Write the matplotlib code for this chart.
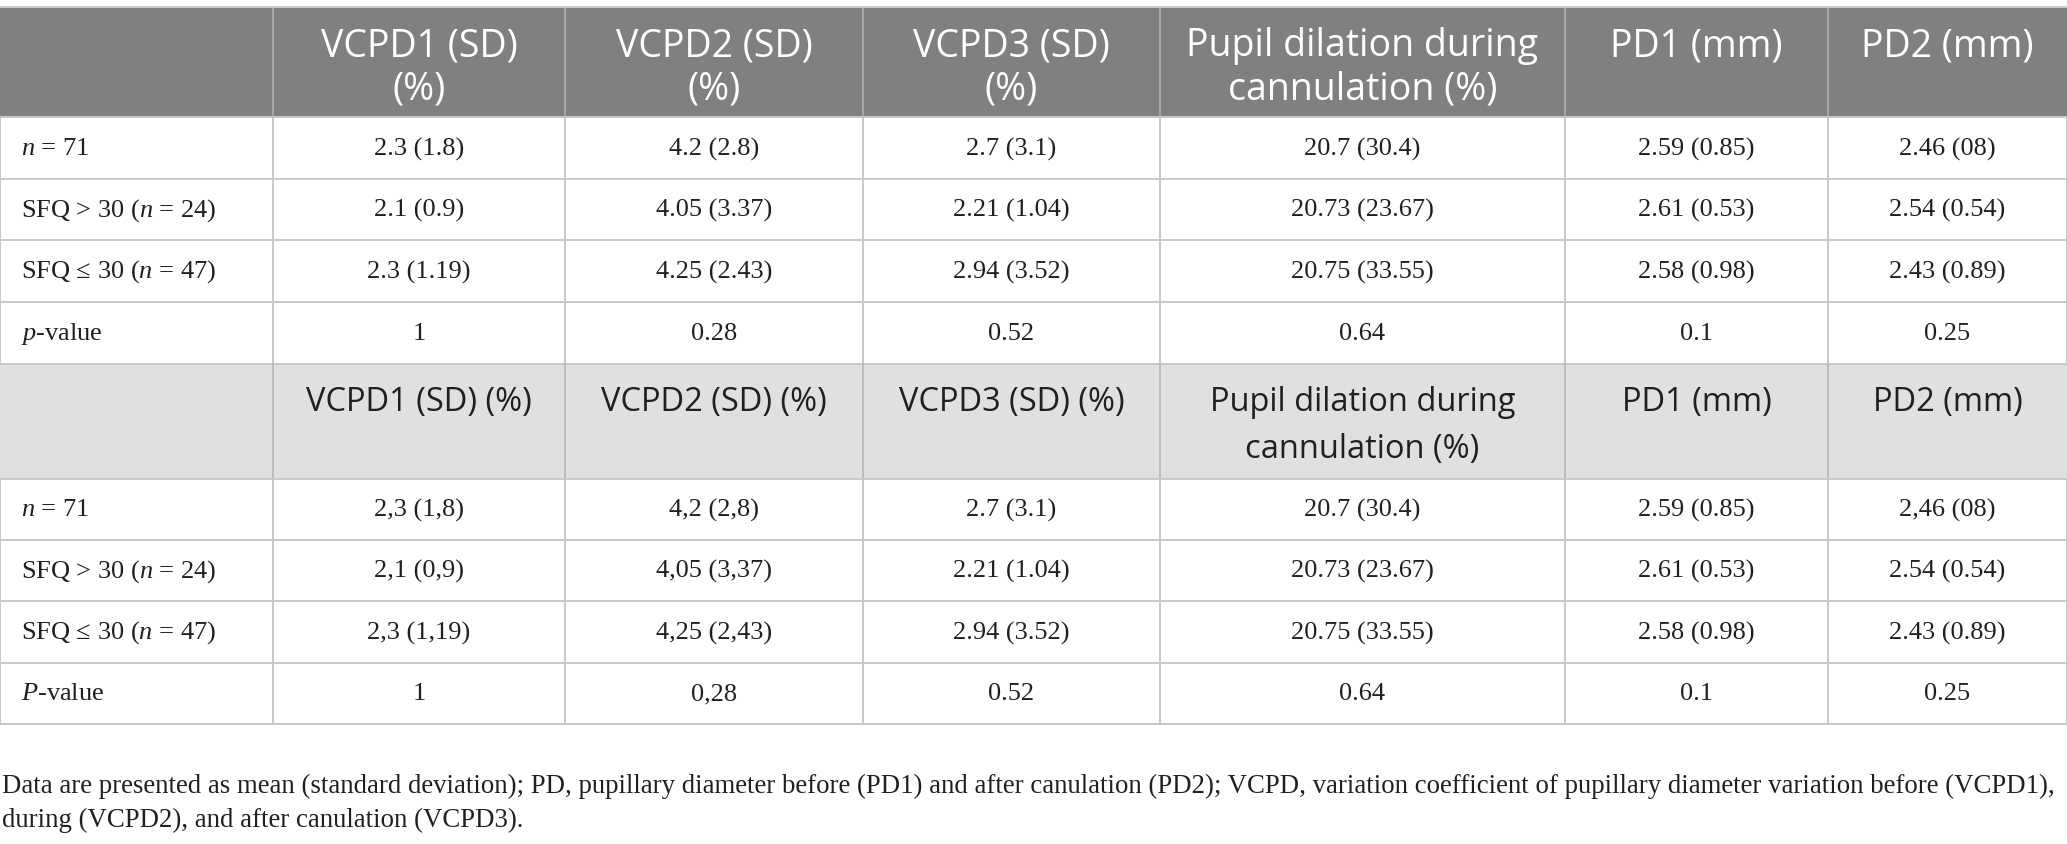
import matplotlib.pyplot as plt
from matplotlib.patches import Rectangle

plt.rcParams['mathtext.fontset'] = 'custom'
plt.rcParams['mathtext.rm'] = 'Liberation Serif'
plt.rcParams['mathtext.it'] = 'Liberation Serif:italic'

# --- Table content ---
headers_top = ["VCPD1 (SD)\n(%)", "VCPD2 (SD)\n(%)", "VCPD3 (SD)\n(%)",
               "Pupil dilation during\ncannulation (%)", "PD1 (mm)", "PD2 (mm)"]
headers_bottom = ["VCPD1 (SD) (%)", "VCPD2 (SD) (%)", "VCPD3 (SD) (%)",
                  "Pupil dilation during\ncannulation (%)", "PD1 (mm)", "PD2 (mm)"]

labels_top = ["$n$ = 71", "SFQ > 30 ($n$ = 24)", "SFQ \u2264 30 ($n$ = 47)", "$p$-value"]
labels_bottom = ["$n$ = 71", "SFQ > 30 ($n$ = 24)", "SFQ \u2264 30 ($n$ = 47)", "$P$-value"]

# one list per row, columns in header order
values_top = [
    ["2.3 (1.8)", "4.2 (2.8)", "2.7 (3.1)", "20.7 (30.4)", "2.59 (0.85)", "2.46 (08)"],
    ["2.1 (0.9)", "4.05 (3.37)", "2.21 (1.04)", "20.73 (23.67)", "2.61 (0.53)", "2.54 (0.54)"],
    ["2.3 (1.19)", "4.25 (2.43)", "2.94 (3.52)", "20.75 (33.55)", "2.58 (0.98)", "2.43 (0.89)"],
    ["1", "0.28", "0.52", "0.64", "0.1", "0.25"],
]
values_bottom = [
    ["2,3 (1,8)", "4,2 (2,8)", "2.7 (3.1)", "20.7 (30.4)", "2.59 (0.85)", "2,46 (08)"],
    ["2,1 (0,9)", "4,05 (3,37)", "2.21 (1.04)", "20.73 (23.67)", "2.61 (0.53)", "2.54 (0.54)"],
    ["2,3 (1,19)", "4,25 (2,43)", "2.94 (3.52)", "20.75 (33.55)", "2.58 (0.98)", "2.43 (0.89)"],
    ["1", "0,28", "0.52", "0.64", "0.1", "0.25"],
]

footnote = ("Data are presented as mean (standard deviation); PD, pupillary diameter before (PD1) "
            "and after canulation (PD2); VCPD, variation coefficient of pupillary diameter variation "
            "before (VCPD1),\nduring (VCPD2), and after canulation (VCPD3).")

# --- Layout (pixels) ---
W, H = 2067, 845
col_edges = [0, 273, 565, 863, 1160, 1565, 1828, 2067]
header1 = (8, 118)
body1 = [118, 180, 241, 303, 365]
header2 = (365, 480)
body2 = [480, 541, 602, 664, 725]

SANS = ['Open Sans', 'DejaVu Sans']
SERIF = ['Liberation Serif', 'DejaVu Serif']
GRID = '#c8c8c8'
TEXT = '#231f20'

fig = plt.figure(figsize=(W / 100, H / 100), dpi=100)
ax = fig.add_axes([0, 0, 1, 1])
ax.set_xlim(0, W)
ax.set_ylim(H, 0)
ax.axis('off')


def draw_header(y0, y1, texts, fill, sep, color, size, first_y, spacing):
    ax.add_patch(Rectangle((0, y0), W, y1 - y0, facecolor=fill, edgecolor='none', zorder=0))
    for x in col_edges[1:-1]:
        ax.plot([x, x], [y0, y1], color=sep, lw=1.4, zorder=1)
    for i, t in enumerate(texts):
        xc = (col_edges[i + 1] + col_edges[i + 2]) / 2
        ax.text(xc, first_y, t, ha='center', va='top', fontsize=size,
                family=SANS, color=color, linespacing=spacing, zorder=2)


def draw_body(edges, labels, rows):
    for r, (lab, vals) in enumerate(zip(labels, rows)):
        yc = (edges[r] + edges[r + 1]) / 2
        ax.text(21, yc, lab, ha='left', va='center', fontsize=19,
                family=SERIF, color=TEXT)
        for c, v in enumerate(vals):
            xc = (col_edges[c + 1] + col_edges[c + 2]) / 2
            ax.text(xc, yc, v, ha='center', va='center', fontsize=19,
                    family=SERIF, color=TEXT)
    for y in edges:
        ax.plot([0, W], [y, y], color=GRID, lw=1.4, zorder=1)
    for x in col_edges:
        ax.plot([x, x], [edges[0], edges[-1]], color=GRID, lw=1.4, zorder=1)


draw_header(*header1, headers_top, '#808080', '#a8a8a8', 'white', 27, 27, 1.2)
draw_body(body1, labels_top, values_top)
draw_header(*header2, headers_bottom, '#e1e0e1', '#bdbdbd', TEXT, 23.5, 386, 1.55)
draw_body(body2, labels_bottom, values_bottom)
ax.plot([0, W], [header1[0], header1[0]], color=GRID, lw=1.4)

ax.text(2, 774, footnote, ha='left', va='top', fontsize=19.3, family=SERIF,
        color=TEXT, linespacing=1.45)

fig.savefig('out.png', dpi=100)
